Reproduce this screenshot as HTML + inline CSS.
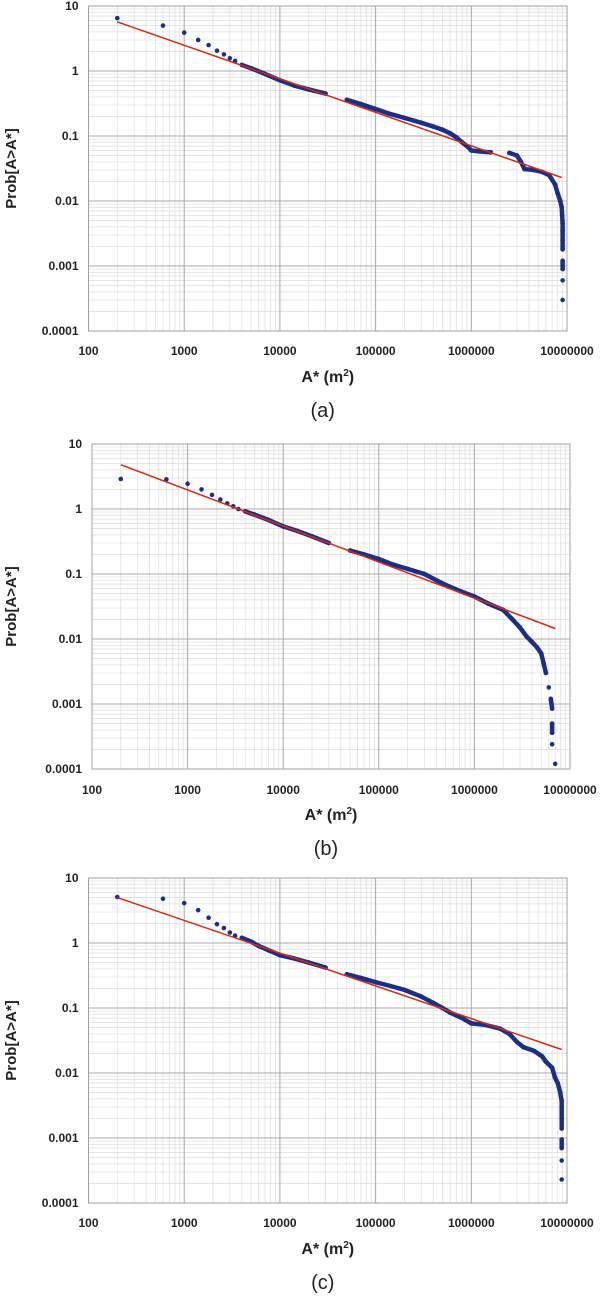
<!DOCTYPE html>
<html><head><meta charset="utf-8">
<style>
html,body{margin:0;padding:0;background:#fff;}
svg text{font-family:"Liberation Sans",sans-serif;}
</style></head>
<body>
<svg id="fig" width="600" height="1293" viewBox="0 0 600 1293" xmlns="http://www.w3.org/2000/svg"></svg>
<script>
const yTickLabels = ["10","1","0.1","0.01","0.001","0.0001"];
const xTickLabels = ["100","1000","10000","100000","1000000","10000000"];
const captions = ["(a)","(b)","(c)"];

const aX = [200,600,1000,1400,1800,2200,2600,3000,3400,4000,5000,7000,10000,14000,20000,30000,50000,70000,100000,140000,200000,300000,400000,500000,600000,700000,800000,900000,1000000,1200000,1600000,2500000,3000000,3300000,3600000,4500000,5500000,6500000,7500000,8000000,8500000,8800000,8900000,9000000,9000000,9000000,9000000,9000000,9000000,9000000,9000000];
const aY = [6.5,5.0,3.9,3.0,2.5,2.05,1.8,1.57,1.43,1.24,1.1,0.9,0.72,0.6,0.52,0.45,0.36,0.31,0.26,0.22,0.19,0.16,0.14,0.125,0.11,0.095,0.08,0.07,0.06,0.058,0.056,0.055,0.05,0.04,0.031,0.03,0.028,0.025,0.018,0.013,0.01,0.008,0.006,0.0045,0.0035,0.0025,0.0018,0.0012,0.0009,0.0006,0.0003];
const aFitX = [200,8800000];
const aFitY = [5.7,0.023];

const bX = [200,600,1000,1400,1800,2200,2600,3000,3400,4000,5000,7000,10000,14000,20000,30000,50000,70000,100000,140000,200000,300000,400000,500000,700000,1000000,1400000,2000000,2500000,3000000,3500000,4000000,4500000,5000000,5300000,5600000,6000000,6300000,6500000,6500000,6500000,6500000,7000000];
const bY = [2.9,2.85,2.45,2.0,1.65,1.4,1.22,1.1,1.0,0.92,0.82,0.68,0.54,0.46,0.38,0.3,0.23,0.2,0.17,0.14,0.12,0.1,0.08,0.068,0.055,0.045,0.035,0.028,0.02,0.015,0.011,0.009,0.0075,0.006,0.0042,0.003,0.0018,0.0012,0.00085,0.0005,0.00036,0.00024,0.00012];
const bFitX = [200,7000000];
const bFitY = [4.8,0.0145];

const cX = [200,600,1000,1400,1800,2200,2600,3000,3400,4000,5000,6000,8000,10000,14000,20000,30000,50000,70000,100000,140000,200000,300000,400000,500000,600000,800000,1000000,1400000,2000000,2500000,3000000,3500000,4500000,5500000,6000000,7000000,7500000,8000000,8500000,8800000,8800000,8800000,8800000,8800000,8800000,8800000,8800000];
const cY = [5.1,4.8,4.1,3.2,2.45,1.95,1.7,1.45,1.3,1.2,1.05,0.9,0.75,0.65,0.58,0.5,0.42,0.33,0.29,0.25,0.22,0.19,0.15,0.12,0.1,0.085,0.07,0.058,0.055,0.048,0.04,0.03,0.025,0.022,0.018,0.015,0.012,0.0085,0.007,0.005,0.0037,0.0027,0.002,0.0014,0.00095,0.0007,0.00045,0.00023];
const cFitX = [200,8800000];
const cFitY = [5.0,0.023];

const NS="http://www.w3.org/2000/svg";
const svg=document.getElementById('fig');
function mk(tag,attrs,parent){const e=document.createElementNS(NS,tag);for(const k in attrs)e.setAttribute(k,attrs[k]);(parent||svg).appendChild(e);return e;}

const panels=[
 {L:88.5,R:567,T:6,B:331,xl:351,xt:376,cap:410,xs:aX,ys:aY,fx:aFitX,fy:aFitY},
 {L:92,R:570,T:444,B:769,xl:790,xt:814,cap:848,xs:bX,ys:bY,fx:bFitX,fy:bFitY},
 {L:88.5,R:567,T:878,B:1203,xl:1223,xt:1248,cap:1282,xs:cX,ys:cY,fx:cFitX,fy:cFitY}
];
panels.forEach((p,pi)=>{
 const g=mk('g',{});
 
 
 const X=v=>p.L+(Math.log10(v)-2)/5*(p.R-p.L);
 const Y=v=>p.T+(1-Math.log10(v))/5*(p.B-p.T);
 for(let d=2;d<7;d++)for(let m=2;m<10;m++){const x=X(m*Math.pow(10,d));mk('line',{x1:x,x2:x,y1:p.T,y2:p.B,stroke:'#e0e0e0','stroke-width':0.8},g);}
 for(let d=-4;d<1;d++)for(let m=2;m<10;m++){const y=Y(m*Math.pow(10,d));mk('line',{x1:p.L,x2:p.R,y1:y,y2:y,stroke:'#e0e0e0','stroke-width':0.8},g);}
 for(let d=2;d<=7;d++){const x=X(Math.pow(10,d));const l=mk('line',{x1:x,x2:x,y1:p.T,y2:p.B,stroke:'#a8a8a8','stroke-width':1},g);}
 for(let d=-4;d<=1;d++){const y=Y(Math.pow(10,d));const l=mk('line',{x1:p.L,x2:p.R,y1:y,y2:y,stroke:'#a8a8a8','stroke-width':1},g);}
 mk('rect',{x:p.L,y:p.T,width:p.R-p.L,height:p.B-p.T,fill:'none',stroke:'#a0a0a0','stroke-width':1},g);
 yTickLabels.forEach((t,i)=>{const e=mk('text',{x:p.L-10,y:Y(Math.pow(10,1-i))+4,'text-anchor':'end','font-size':12,'font-weight':'bold',fill:'#222'},g);e.textContent=t;});
 xTickLabels.forEach((t,i)=>{const e=mk('text',{x:X(Math.pow(10,i+2)),y:p.xl+4,'text-anchor':'middle','font-size':12,'font-weight':'bold',fill:'#222'},g);e.textContent=t;});
 const xt=mk('text',{x:(p.L+p.R)/2,y:p.xt+6,'text-anchor':'middle','font-size':16,'font-weight':'bold',fill:'#222'},g);
 xt.innerHTML='A* (m<tspan font-size="10" dy="-6">2</tspan><tspan dy="6">)</tspan>';
 
 const cy=(p.T+p.B)/2;
 const yt=mk('text',{x:0,y:0,transform:`translate(16,${cy}) rotate(-90)`,'text-anchor':'middle','font-size':15,'font-weight':'bold',fill:'#222'},g);
 yt.textContent='Prob[A>A*]';
 const cp=mk('text',{x:(p.L+p.R)/2-5,y:p.cap+7,'text-anchor':'middle','font-size':20,fill:'#222'},g);
 cp.textContent=captions[pi];
 for(let i=1;i<p.xs.length;i++){
  const rx=p.xs[i]/p.xs[i-1], ry=p.ys[i-1]/p.ys[i];
  if(p.xs[i-1]>=4000 && rx<1.55 && ry<1.45 && rx>=1){
   const s=mk('line',{x1:X(p.xs[i-1]),y1:Y(p.ys[i-1]),x2:X(p.xs[i]),y2:Y(p.ys[i]),stroke:'#1b2f86','stroke-width':4.5,'stroke-linecap':'round'},g);
   
  }
 }
 for(let i=0;i<p.xs.length;i++){
  const c=mk('circle',{cx:X(p.xs[i]),cy:Y(p.ys[i]),r:2.3,fill:'#1b2f86'},g);
  
 }
 const f=mk('line',{x1:X(p.fx[0]),y1:Y(p.fy[0]),x2:X(p.fx[1]),y2:Y(p.fy[1]),stroke:'#d42a10','stroke-width':1.5},g);
 
});
</script>
</body></html>
